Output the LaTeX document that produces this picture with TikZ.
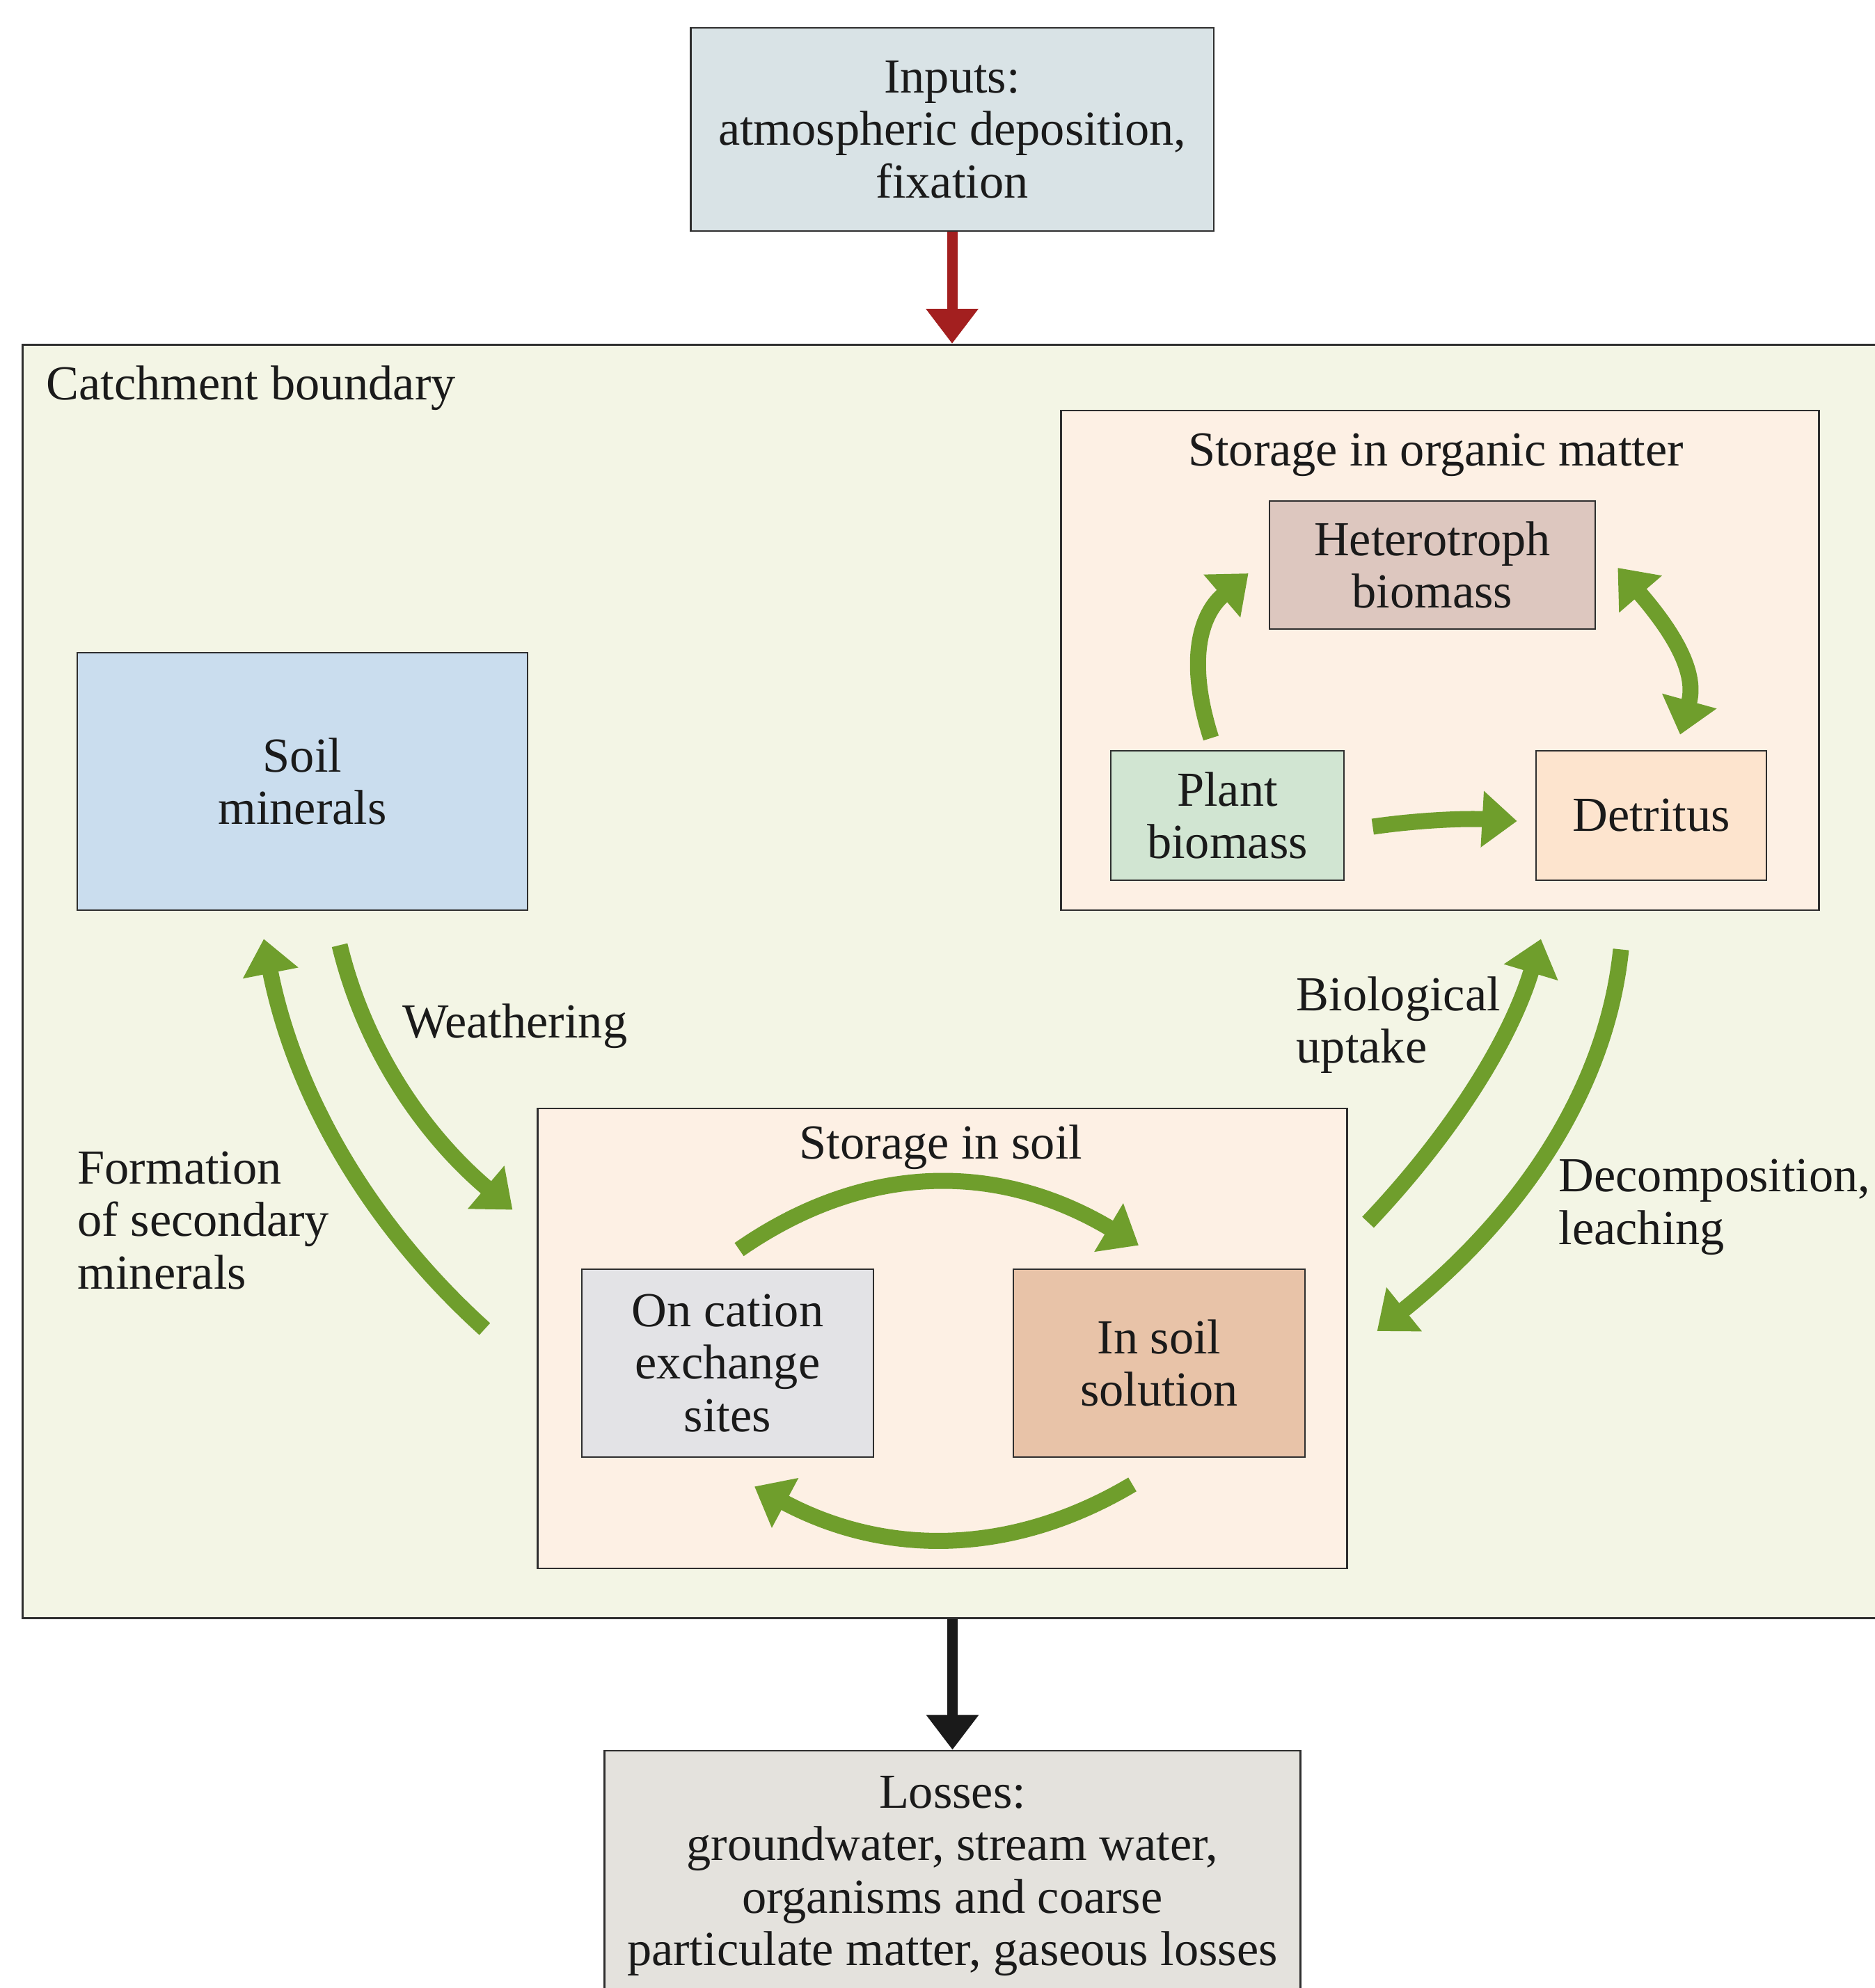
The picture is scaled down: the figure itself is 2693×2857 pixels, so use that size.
\documentclass[tikz,border=0pt]{standalone}
\usepackage{fontspec}
\setmainfont{Liberation Serif}
\usetikzlibrary{arrows.meta,calc}

\definecolor{inkc}{HTML}{1A1A1A}
\definecolor{edgec}{HTML}{2E2E2E}
\definecolor{inputc}{HTML}{D9E3E6}
\definecolor{catchc}{HTML}{F3F5E5}
\definecolor{storec}{HTML}{FDF0E4}
\definecolor{heteroc}{HTML}{DDC7BF}
\definecolor{plantc}{HTML}{D1E5D2}
\definecolor{detric}{HTML}{FDE4CE}
\definecolor{mineralc}{HTML}{CADDEE}
\definecolor{cationc}{HTML}{E3E3E6}
\definecolor{solutc}{HTML}{E8C3A8}
\definecolor{lossc}{HTML}{E4E2DD}
\definecolor{leafc}{HTML}{6F9E2C}
\definecolor{inflowc}{HTML}{A31F1F}

\tikzset{
  tipg/.tip={Triangle[width=7.8mm,length=5mm]},
  tipb/.tip={Triangle[width=7.2mm,length=5mm]},
}

\begin{document}
\begin{tikzpicture}[x=0.01cm,y=-0.01cm,
  every node/.style={font=\fontsize{20}{21.5}\selectfont, text=inkc},
  box/.style={draw=edgec, line width=0.7pt, align=center, inner sep=0pt},
  flow/.style={draw=leafc, line width=2.3mm, -tipg},
  flowboth/.style={draw=leafc, line width=2.3mm, tipg-tipg},
  bigflow/.style={line width=1.5mm, -tipb},
  tag/.style={inner sep=0pt, align=left, anchor=west}]

\useasboundingbox (0,0) rectangle (2693,2857);
\fill[white] (0,0) rectangle (2693,2857);

% external input and catchment frame
\node[box, fill=inputc, minimum width=7.51cm, minimum height=2.92cm] (inputs) at (1368,186)
  {Inputs:\\atmospheric deposition,\\fixation};
\node[box, fill=catchc, line width=0.9pt, minimum width=27.07cm, minimum height=18.29cm] (catchment) at (1386.5,1410.5) {};
\node[tag] (catchlabel) at (66,558) {Catchment boundary};

% mineral pool
\node[box, fill=mineralc, minimum width=6.47cm, minimum height=3.70cm] (soilmin) at (434.5,1123) {Soil\\minerals};

% organic matter pools
\node[box, fill=storec, minimum width=10.88cm, minimum height=7.18cm] (organic) at (2069,949) {};
\node[inner sep=0pt] (orgtitle) at (2063,654) {Storage in organic matter};
\node[box, fill=heteroc, minimum width=4.68cm, minimum height=1.84cm] (hetero) at (2058,812) {Heterotroph\\biomass};
\node[box, fill=plantc, minimum width=3.35cm, minimum height=1.86cm] (plant) at (1763.5,1172) {Plant\\biomass};
\node[box, fill=detric, minimum width=3.31cm, minimum height=1.86cm] (detritus) at (2372.5,1172) {Detritus};

% soil pools
\node[box, fill=storec, minimum width=11.62cm, minimum height=6.61cm] (soilstore) at (1354,1923.5) {};
\node[inner sep=0pt] (soiltitle) at (1352,1649) {Storage in soil};
\node[box, fill=cationc, minimum width=4.19cm, minimum height=2.70cm] (cation) at (1045.5,1959) {On cation\\exchange\\sites};
\node[box, fill=solutc, minimum width=4.19cm, minimum height=2.70cm] (solution) at (1665.5,1959) {In soil\\solution};

% losses
\node[box, fill=lossc, minimum width=9.99cm, minimum height=3.60cm] (losses) at (1368.5,2696)
  {Losses:\\groundwater, stream water,\\organisms and coarse\\particulate matter, gaseous losses};

% input and output flows
\draw[bigflow, draw=inflowc] (inputs.south) -- (inputs.south |- catchment.north);
\draw[bigflow, draw=inkc] (catchment.south -| losses.north) -- (losses.north);

% end points of the exchange arrows
\coordinate (formA) at ($(soilstore.west)+(-75,-13.5)$);
\coordinate (formB) at ($(soilmin.south)+(-55.5,40)$);
\coordinate (weathA) at ($(soilmin.south)+(53.5,49)$);
\coordinate (weathB) at ($(soilstore.north west)+(-35,147)$);
\coordinate (upA) at ($(soilstore.north east)+(29,165)$);
\coordinate (upB) at ($(organic.south)+(145,40)$);
\coordinate (decA) at ($(organic.south)+(260,55)$);
\coordinate (decB) at ($(soilstore.east)+(42,-10.5)$);
\coordinate (phA) at ($(plant.north)+(-23.5,-17)$);
\coordinate (phB) at ($(hetero.west)+(-29,12)$);
\coordinate (hdA) at ($(hetero.east)+(31,4)$);
\coordinate (hdB) at ($(detritus.north)+(41.5,-22)$);
\coordinate (pdA) at ($(plant.east)+(40,16)$);
\coordinate (pdB) at ($(detritus.west)+(-26,8)$);
\coordinate (csA) at ($(cation.north)+(16.5,-27)$);
\coordinate (csB) at ($(solution.north)+(-29.5,-33)$);
\coordinate (scA) at ($(solution.south)+(-38.5,38)$);
\coordinate (scB) at ($(cation.south)+(38.5,41)$);

% green exchange arrows
\draw[flow] (formA) .. controls +(-169,-153) and +(44,221) .. (formB);
\draw[flow] (weathA) .. controls +(35,145) and +(-131,-111) .. (weathB);
\draw[flow] (upA) .. controls +(124,-131) and +(-43,143) .. (upB);
\draw[flow] (decA) .. controls +(-20,194) and +(215,-173) .. (decB);
\draw[flow] (phA) .. controls +(-35,-110) and +(-70,60) .. (phB);
\draw[flowboth] (hdA) .. controls +(95,110) and +(22,-80) .. (hdB);
\draw[flow] (pdA) .. controls +(69,-10) and +(-71,-4) .. (pdB);
\draw[flow] (csA) .. controls +(180,-125) and +(-203,-121) .. (csB);
\draw[flow] (scA) .. controls +(-173,103) and +(189,101) .. (scB);

% flow labels
\node[tag] (weathlabel) at (578,1475) {Weathering};
\node[tag] (formlabel) at (111,1754) {Formation\\of secondary\\minerals};
\node[tag] (uplabel) at (1862,1473) {Biological\\uptake};
\node[tag] (declabel) at (2239,1735) {Decomposition,\\leaching};

\end{tikzpicture}
\end{document}
